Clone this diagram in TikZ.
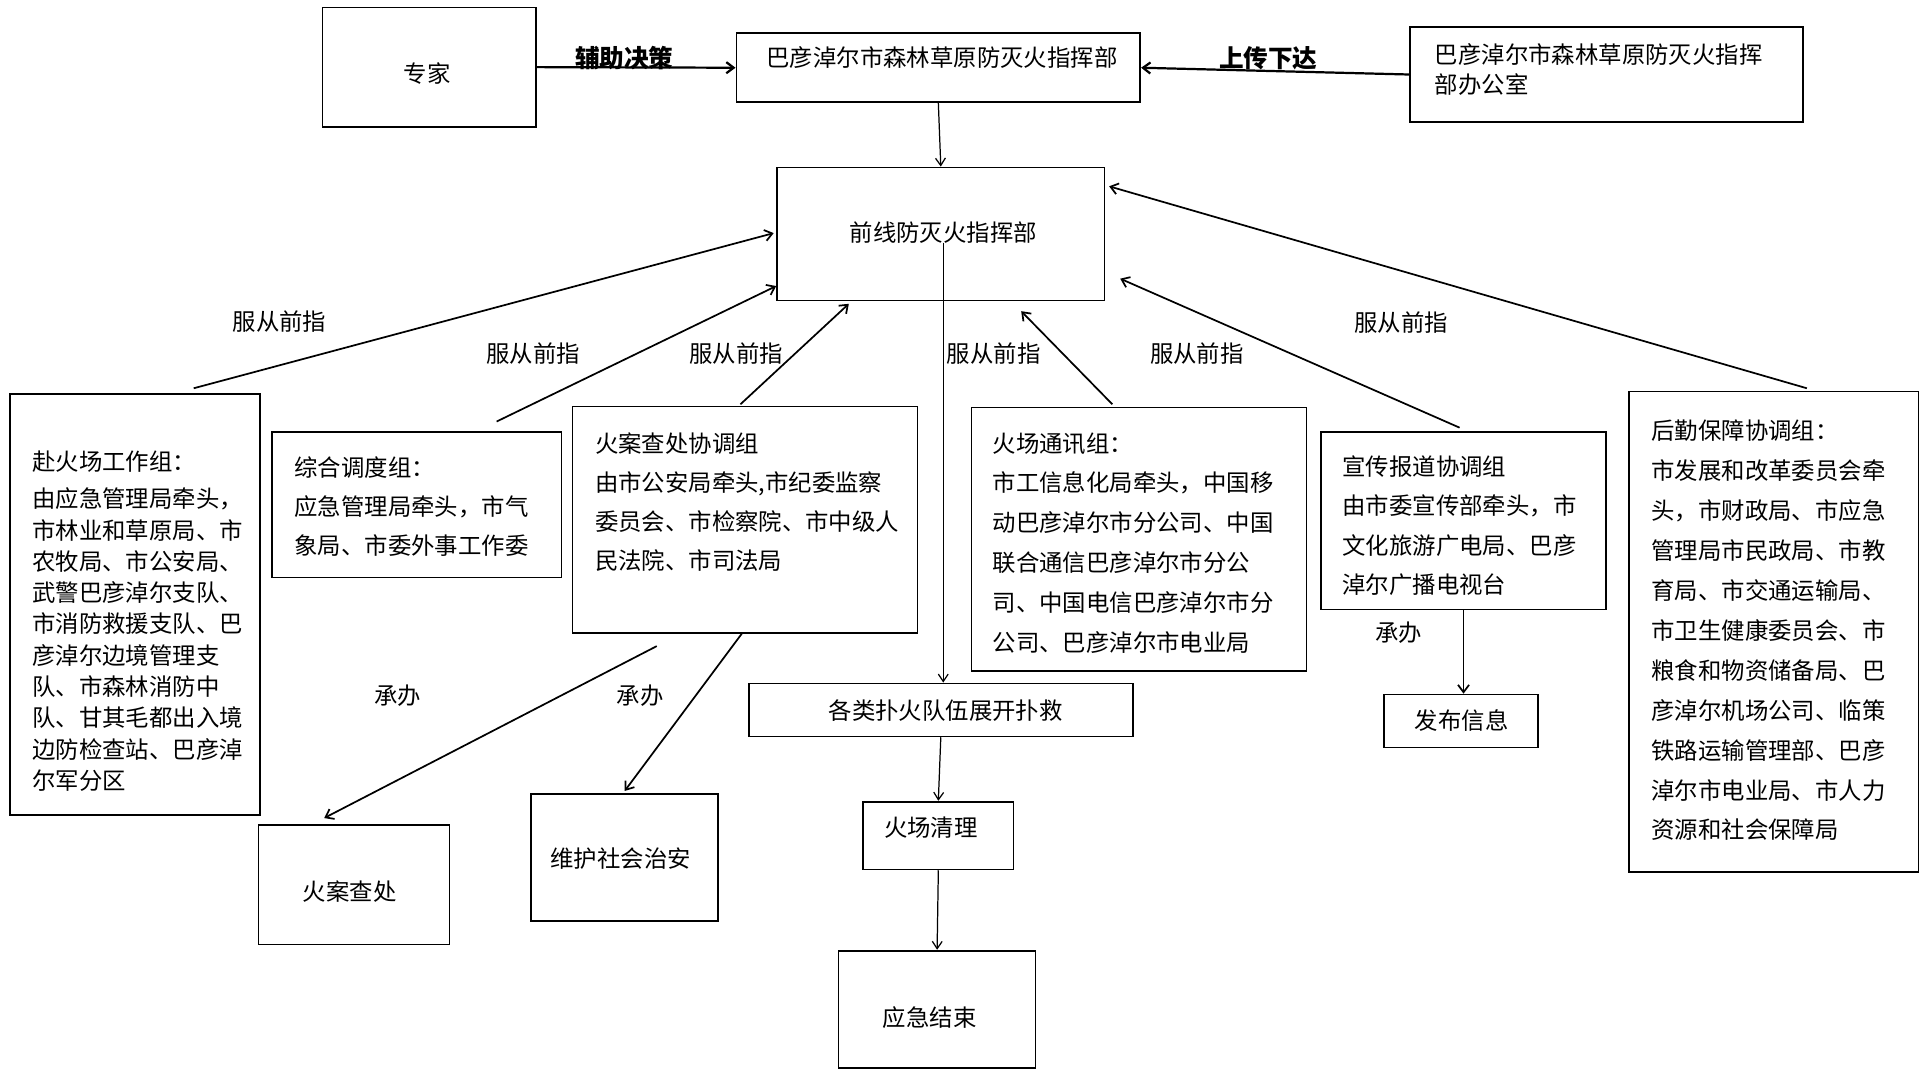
\documentclass[tikz,border=0pt]{standalone}
\usepackage{fontspec}
\setmainfont{Noto Sans CJK SC}
\usetikzlibrary{arrows.meta,calc}
\tikzset{
  bx/.style={draw, line width=1.4pt, inner sep=0pt, rectangle},
  tx/.style={inner sep=0pt, font=\fontsize{19}{24}\selectfont},
  ml/.style={inner sep=0pt, anchor=west, align=left},
  arr/.style={-{Straight Barb[length=6pt,width=9pt]}, line width=1.4pt},
  thinarr/.style={-{Straight Barb[length=6pt,width=8pt]}, line width=1pt},
  thickarr/.style={-{Straight Barb[length=6pt,width=9pt]}, line width=1.8pt},
  lbl/.style={inner sep=0pt, font=\fontsize{19}{24}\selectfont},
  blbl/.style={inner sep=0pt, font=\fontsize{20}{24}\selectfont\bfseries},
}
\begin{document}
\begin{tikzpicture}[x=1pt,y=-1pt]
\fill[white] (0,0) rectangle (1560,868);
\useasboundingbox (0,0) rectangle (1560,868);

% boxes
\node[bx, minimum width=173pt, minimum height=97pt] (zj) at (348.5,54.5) {};
\node[bx, minimum width=328pt, minimum height=56pt] (top) at (762,55) {};
\node[bx, minimum width=319pt, minimum height=77pt] (of) at (1304.5,60.5) {};
\node[bx, minimum width=266pt, minimum height=108pt] (qx) at (764,190) {};
\node[bx, minimum width=203pt, minimum height=342pt] (fhc) at (109.5,491) {};
\node[bx, minimum width=235pt, minimum height=118pt] (zh) at (338.5,410) {};
\node[bx, minimum width=280pt, minimum height=184pt] (ha) at (605,422) {};
\node[bx, minimum width=272pt, minimum height=214pt] (tx) at (925,438) {};
\node[bx, minimum width=231pt, minimum height=144pt] (xc) at (1188.5,423) {};
\node[bx, minimum width=235pt, minimum height=390pt] (hq) at (1440.5,513) {};
\node[bx, minimum width=312pt, minimum height=43pt] (pj) at (764,576.5) {};
\node[bx, minimum width=122pt, minimum height=55pt] (ql) at (762,678.5) {};
\node[bx, minimum width=160pt, minimum height=95pt] (js) at (761,819.5) {};
\node[bx, minimum width=155pt, minimum height=97pt] (ac) at (287.5,718.5) {};
\node[bx, minimum width=152pt, minimum height=103pt] (wh) at (507,696.5) {};
\node[bx, minimum width=125pt, minimum height=43pt] (fb) at (1186.5,585.5) {};

% box texts
\node[tx] (zjt) at (347,59.5) {专家};
\node[tx] (topt) at (765,47) {巴彦淖尔市森林草原防灭火指挥部};
\node[tx, ml, font=\fontsize{19}{25}\selectfont] (oft) at (1165,56.5) {巴彦淖尔市森林草原防灭火指挥\\部办公室};
\node[tx] (qxt) at (766,189) {前线防灭火指挥部};
\node[tx, ml, font=\fontsize{19}{25.4}\selectfont] (fhct) at (26,504.5) {赴火场工作组：\\[4.6pt]由应急管理局牵头，\\市林业和草原局、市\\农牧局、市公安局、\\武警巴彦淖尔支队、\\市消防救援支队、巴\\彦淖尔边境管理支\\队、市森林消防中\\队、甘其毛都出入境\\边防检查站、巴彦淖\\尔军分区};
\node[tx, ml, font=\fontsize{19}{31.5}\selectfont] (zht) at (239,411.5) {综合调度组：\\应急管理局牵头，市气\\象局、市委外事工作委};
\node[tx, ml, font=\fontsize{19}{31.7}\selectfont] (hat) at (483,407.5) {火案查处协调组\\由市公安局牵头,市纪委监察\\委员会、市检察院、市中级人\\民法院、市司法局};
\node[tx, ml, font=\fontsize{19}{32.3}\selectfont] (txt) at (806,440.75) {火场通讯组：\\市工信息化局牵头，中国移\\动巴彦淖尔市分公司、中国\\联合通信巴彦淖尔市分公\\司、中国电信巴彦淖尔市分\\公司、巴彦淖尔市电业局};
\node[tx, ml, font=\fontsize{19}{32}\selectfont] (xct) at (1090,427) {宣传报道协调组\\由市委宣传部牵头，市\\文化旅游广电局、巴彦\\淖尔广播电视台};
\node[tx, ml, font=\fontsize{19}{32.4}\selectfont] (hqt) at (1341,512) {后勤保障协调组：\\市发展和改革委员会牵\\头，市财政局、市应急\\管理局市民政局、市教\\育局、市交通运输局、\\市卫生健康委员会、市\\粮食和物资储备局、巴\\彦淖尔机场公司、临策\\铁路运输管理部、巴彦\\淖尔市电业局、市人力\\资源和社会保障局};
\node[tx] (pjt) at (768,577) {各类扑火队伍展开扑救};
\node[tx] (qlt) at (756,672) {火场清理};
\node[tx] (jst) at (755,826) {应急结束};
\node[tx] (act) at (284,724) {火案查处};
\node[tx] (wht) at (504,697) {维护社会治安};
\node[tx] (fbt) at (1187,585) {发布信息};

% connectors
\draw[thickarr] (zj.east) -- (top.west);
\draw[thickarr] (of.west) -- (top.east);
\draw[thinarr] (top.south) -- (qx.north);
\coordinate (qxin) at ($(qx.center)+(2,7)$);
\draw[thinarr] (qxin) -- (qxin |- pj.north);

\draw[arr] ($(fhc.north west)+(150,-4)$) -- ($(qx.north west)+(-2,54)$);
\draw[arr] ($(zh.north west)+(183,-8)$) -- ($(qx.north west)+(0,97)$);
\draw[arr] ($(ha.north west)+(137,-1)$) -- ($(qx.south west)+(59,2)$);
\draw[arr] ($(tx.north west)+(115,-2)$) -- ($(qx.south west)+(199,8)$);
\draw[arr] ($(xc.north west)+(113,-3)$) -- ($(qx.north east)+(12,91)$);
\draw[arr] ($(hq.north west)+(145,-2)$) -- ($(qx.north east)+(3,16)$);

\draw[thinarr] (pj.south) -- (ql.north);
\draw[thinarr] (ql.south) -- (js.north);
\draw[arr] ($(ha.south west)+(69,10)$) -- ($(ac.north west)+(54,-5)$);
\draw[arr] ($(ha.south west)+(138,0)$) -- ($(wh.north west)+(77,-2)$);
\draw[arr] (xc.south) -- (xc.south |- fb.north);

% labels
\node[blbl] (l1) at (507,47) {辅助决策};
\node[blbl] (l2) at (1030,47) {上传下达};
\node[lbl] (f1) at (227,261) {服从前指};
\node[lbl] (f2) at (433,287) {服从前指};
\node[lbl] (f3) at (598,287) {服从前指};
\node[lbl] (f4) at (807,287) {服从前指};
\node[lbl] (f5) at (972,287) {服从前指};
\node[lbl] (f6) at (1138,262) {服从前指};
\node[lbl] (c1) at (323,565) {承办};
\node[lbl] (c2) at (520,565) {承办};
\node[lbl] (c3) at (1136,514) {承办};
\end{tikzpicture}
\end{document}
